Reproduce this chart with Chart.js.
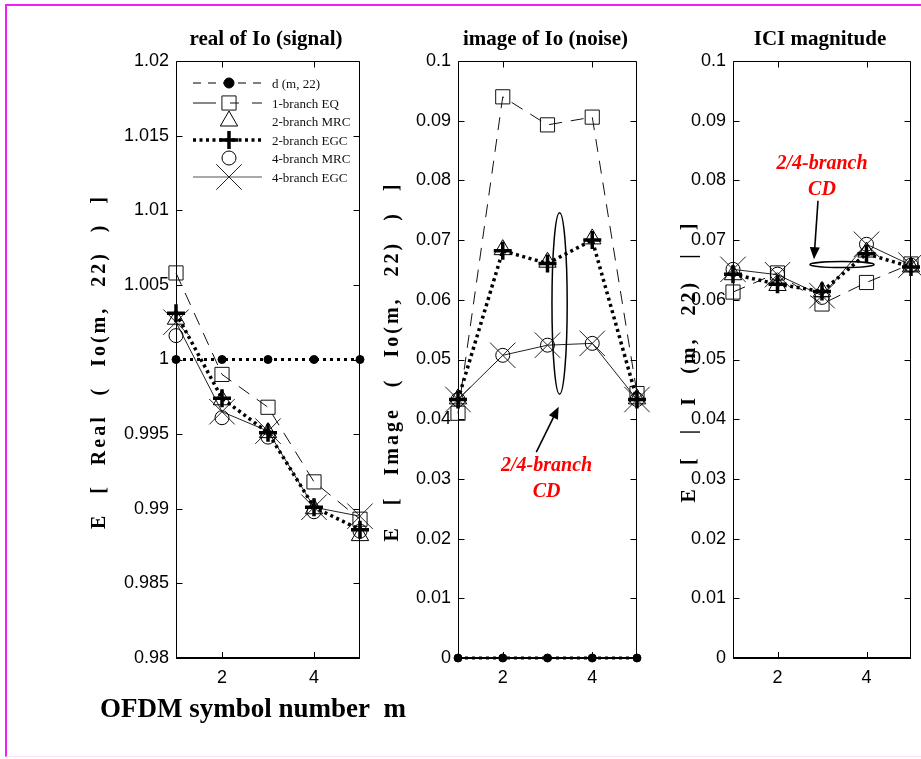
<!DOCTYPE html>
<html>
<head>
<meta charset="utf-8">
<title>E[Io(m,22)] vs OFDM symbol number</title>
<script src="https://cdn.jsdelivr.net/npm/chart.js@4.4.1/dist/chart.umd.min.js"></script>
<style>
  html, body { margin: 0; padding: 0; background: #fff; }
  #page { position: relative; width: 921px; height: 759px; overflow: hidden; background: #fff; }
  #page canvas { position: absolute; left: 0; top: 0; }
  #frame {
    position: absolute; left: 5px; top: 4px; width: 940px; height: 753px;
    border-left: 2px solid #f020f0; border-top: 2px solid #f020f0; border-bottom: 1px solid #fbe2fb;
    box-sizing: border-box;
  }
</style>
</head>
<body>
<div id="page">
  <div id="frame"></div>
  <canvas id="signal" width="921" height="759"></canvas>
  <canvas id="noise" width="921" height="759"></canvas>
  <canvas id="ici" width="921" height="759"></canvas>
</div>
<script>
// ---- data -------------------------------------------------------------
const symbolNumbers = [1, 2, 3, 4, 5];
const xTickValues = [2, 4];
const xTickLabels = ['2', '4'];

const realTickValues = [0.98, 0.985, 0.99, 0.995, 1, 1.005, 1.01, 1.015, 1.02];
const realTickLabels = ['0.98', '0.985', '0.99', '0.995', '1', '1.005', '1.01', '1.015', '1.02'];
const smallTickValues = [0, 0.01, 0.02, 0.03, 0.04, 0.05, 0.06, 0.07, 0.08, 0.09, 0.1];
const smallTickLabels = ['0', '0.01', '0.02', '0.03', '0.04', '0.05', '0.06', '0.07', '0.08', '0.09', '0.1'];

const seriesNames = ['d (m, 22)', '1-branch EQ', '2-branch MRC', '2-branch EGC', '4-branch MRC', '4-branch EGC'];

// real of Io (signal)
const realD    = [1, 1, 1, 1, 1];
const realEQ1  = [1.0058, 0.9990, 0.9968, 0.9918, 0.9893];
const realMRC2 = [1.0027, 0.9973, 0.9951, 0.9900, 0.9882];
const realEGC2 = [1.0031, 0.9974, 0.9951, 0.9901, 0.9886];
const realMRC4 = [1.0016, 0.9961, 0.9948, 0.9898, 0.9885];
const realEGC4 = [1.0025, 0.9965, 0.9952, 0.9901, 0.9895];

// image of Io (noise)
const noiseD    = [0, 0, 0, 0, 0];
const noiseEQ1  = [0.0410, 0.0940, 0.0893, 0.0906, 0.0443];
const noiseMRC2 = [0.0434, 0.0684, 0.0663, 0.0702, 0.0434];
const noiseEGC2 = [0.0433, 0.0682, 0.0661, 0.0700, 0.0433];
const noiseMRC4 = [0.0433, 0.0507, 0.0524, 0.0527, 0.0433];
const noiseEGC4 = [0.0433, 0.0507, 0.0524, 0.0527, 0.0433];

// ICI magnitude
const iciEQ1  = [0.0613, 0.0645, 0.0593, 0.0629, 0.0660];
const iciMRC2 = [0.0642, 0.0624, 0.0614, 0.0680, 0.0655];
const iciEGC2 = [0.0643, 0.0626, 0.0614, 0.0677, 0.0655];
const iciMRC4 = [0.0651, 0.0643, 0.0604, 0.0693, 0.0658];
const iciEGC4 = [0.0651, 0.0642, 0.0607, 0.0693, 0.0658];

// ---- look -------------------------------------------------------------
const SERIF = '"Liberation Serif", "Times New Roman", serif';
const SANS = '"Liberation Sans", Arial, sans-serif';

const STYLES = {
  d:    { line: true,  width: 3,   dash: [3, 4],  color: '#000', marker: 'circle',   size: 4,  mWidth: 1,   filled: true,  order: 5 },
  eq1:  { line: true,  width: 1,   dash: [13, 9], color: '#111', marker: 'rect',     size: 10, mWidth: 1,   filled: false, order: 3 },
  mrc2: { line: false, width: 1,   dash: [],      color: '#000', marker: 'triangle', size: 10, mWidth: 1,   filled: false, order: 4 },
  egc2: { line: true,  width: 3.5, dash: [3, 3.5],color: '#000', marker: 'cross',    size: 9,  mWidth: 3.5, filled: false, order: 1 },
  mrc4: { line: false, width: 1,   dash: [],      color: '#000', marker: 'circle',   size: 7,  mWidth: 1,   filled: false, order: 2 },
  egc4: { line: true,  width: 1,   dash: [],      color: '#222', marker: 'crossRot', size: 18, mWidth: 1,   filled: false, order: 6 }
};

function dataset(label, values, st) {
  return {
    label,
    data: symbolNumbers.map((m, i) => ({ x: m, y: values[i] })),
    showLine: st.line,
    borderColor: st.color,
    borderWidth: st.width,
    borderDash: st.dash,
    borderCapStyle: 'butt',
    pointStyle: st.marker,
    pointRadius: st.size,
    pointHoverRadius: st.size,
    pointBorderWidth: st.mWidth,
    pointBorderColor: st.color,
    pointBackgroundColor: st.filled ? st.color : 'rgba(0,0,0,0)',
    tension: 0,
    fill: false,
    clip: false,
    order: st.order
  };
}

// draw one marker glyph (legend)
function marker(ctx, kind, x, y, r, lw, color, filled) {
  ctx.save();
  ctx.setLineDash([]);
  ctx.strokeStyle = color; ctx.fillStyle = color; ctx.lineWidth = lw;
  ctx.beginPath();
  if (kind === 'circle') {
    ctx.arc(x, y, r, 0, Math.PI * 2);
  } else if (kind === 'rect') {
    const s = r * Math.SQRT1_2;
    ctx.rect(x - s, y - s, 2 * s, 2 * s);
  } else if (kind === 'triangle') {
    for (let k = 0; k < 3; k++) {
      const a = k * 2 * Math.PI / 3;
      const px = x + Math.sin(a) * r, py = y - Math.cos(a) * r;
      k ? ctx.lineTo(px, py) : ctx.moveTo(px, py);
    }
    ctx.closePath();
  } else if (kind === 'cross') {
    ctx.moveTo(x, y - r); ctx.lineTo(x, y + r);
    ctx.moveTo(x - r, y); ctx.lineTo(x + r, y);
  } else if (kind === 'crossRot') {
    const o = r * Math.SQRT1_2;
    ctx.moveTo(x - o, y - o); ctx.lineTo(x + o, y + o);
    ctx.moveTo(x + o, y - o); ctx.lineTo(x - o, y + o);
  }
  if (filled) ctx.fill();
  ctx.stroke();
  ctx.restore();
}

// text stretched to a given length: loose letters, wider word gaps
function spacedText(ctx, text, x, y, target) {
  if ('letterSpacing' in ctx) ctx.letterSpacing = '3px';
  const natural = ctx.measureText(text).width;
  const gaps = (text.match(/ /g) || []).length;
  if ('wordSpacing' in ctx && gaps) {
    const sp = Math.max(0, (target - natural) / gaps);
    ctx.wordSpacing = sp.toFixed(2) + 'px';
  }
  ctx.fillText(text, x, y);
  if ('letterSpacing' in ctx) ctx.letterSpacing = '0px';
  if ('wordSpacing' in ctx) ctx.wordSpacing = '0px';
}

function arrow(ctx, x0, y0, x1, y1) {
  const ang = Math.atan2(y1 - y0, x1 - x0);
  const L = 12, W = 5;
  ctx.save();
  ctx.strokeStyle = '#000'; ctx.fillStyle = '#000'; ctx.lineWidth = 1.6;
  ctx.beginPath();
  ctx.moveTo(x0, y0);
  ctx.lineTo(x1 - Math.cos(ang) * L * 0.8, y1 - Math.sin(ang) * L * 0.8);
  ctx.stroke();
  ctx.beginPath();
  ctx.moveTo(x1, y1);
  ctx.lineTo(x1 - Math.cos(ang) * L + Math.sin(ang) * W, y1 - Math.sin(ang) * L - Math.cos(ang) * W);
  ctx.lineTo(x1 - Math.cos(ang) * L - Math.sin(ang) * W, y1 - Math.sin(ang) * L + Math.cos(ang) * W);
  ctx.closePath();
  ctx.fill();
  ctx.restore();
}

// axes box, inward ticks, titles and notes for one panel
function panelPlugin(p) {
  return {
    id: 'panel_' + p.key,
    beforeDatasetsDraw(chart) {
      const { ctx, chartArea: a, scales: { x, y } } = chart;
      const L = Math.round(a.left) + 0.5, R = Math.round(a.right) - 0.5;
      const T = Math.round(a.top) + 0.5, B = Math.round(a.bottom);
      ctx.save();
      ctx.strokeStyle = '#000'; ctx.lineWidth = 1;
      ctx.beginPath();
      ctx.moveTo(L, B); ctx.lineTo(L, T); ctx.lineTo(R, T); ctx.lineTo(R, B);
      y.ticks.forEach(t => {
        const py = Math.round(y.getPixelForValue(t.value)) + 0.5;
        ctx.moveTo(L, py); ctx.lineTo(L + 6, py);
        ctx.moveTo(R, py); ctx.lineTo(R - 6, py);
      });
      x.ticks.forEach(t => {
        const px = Math.round(x.getPixelForValue(t.value)) + 0.5;
        ctx.moveTo(px, B); ctx.lineTo(px, B - 6);
        ctx.moveTo(px, T); ctx.lineTo(px, T + 6);
      });
      ctx.stroke();
      ctx.lineWidth = 2;
      ctx.beginPath(); ctx.moveTo(L - 0.5, B); ctx.lineTo(R + 0.5, B); ctx.stroke();
      ctx.restore();
    },
    afterDraw(chart) {
      const { ctx, chartArea: a, scales: { x, y } } = chart;
      ctx.save();
      ctx.fillStyle = '#000';
      // panel title
      ctx.font = 'bold 21px ' + SERIF;
      ctx.textAlign = 'center'; ctx.textBaseline = 'alphabetic';
      ctx.fillText(p.title, (a.left + a.right) / 2 - 2, 45);
      // y axis title
      ctx.save();
      ctx.translate(p.yTitleX, (a.top + a.bottom) / 2 + 2);
      ctx.rotate(-Math.PI / 2);
      ctx.font = 'bold 20px ' + SERIF;
      ctx.textBaseline = 'middle';
      spacedText(ctx, p.yTitle, 0, 0, p.yTitleLen);
      ctx.restore();
      if (p.notes) p.notes(chart, ctx, x, y);
      ctx.restore();
    }
  };
}

function makeChart(id, p, datasets, yTickValues, yTickLabels, yMin, yMax) {
  const Y_W = 70, X_H = 40;
  return new Chart(document.getElementById(id), {
    type: 'scatter',
    data: { datasets },
    options: {
      responsive: false,
      animation: false,
      events: [],
      layout: {
        autoPadding: false,
        padding: { left: p.area.left - Y_W, right: 921 - p.area.right, top: p.area.top, bottom: 759 - p.area.bottom - X_H }
      },
      plugins: { legend: { display: false }, tooltip: { enabled: false }, title: { display: false } },
      scales: {
        x: {
          type: 'linear', min: 1, max: 5,
          grid: { display: false, drawTicks: false }, border: { display: false },
          afterBuildTicks: s => { s.ticks = xTickValues.map(v => ({ value: v })); },
          afterFit: s => { s.height = X_H; },
          ticks: {
            padding: 9, color: '#000', font: { family: SANS, size: 18 },
            maxRotation: 0, autoSkip: false,
            callback: (v, i) => xTickLabels[i]
          }
        },
        y: {
          type: 'linear', min: yMin, max: yMax,
          grid: { display: false, drawTicks: false }, border: { display: false },
          afterBuildTicks: s => { s.ticks = yTickValues.map(v => ({ value: v })); },
          afterFit: s => { s.width = Y_W; },
          ticks: {
            padding: 7, color: '#000', font: { family: SANS, size: 18 }, autoSkip: false,
            callback: (v, i) => yTickLabels[i]
          }
        }
      }
    },
    plugins: [panelPlugin(p)]
  });
}

// ---- panel 1: real of Io (signal) -------------------------------------
const signalPanel = {
  key: 'signal',
  area: { left: 176, right: 360, top: 61, bottom: 658 },
  title: 'real of Io (signal)',
  yTitle: 'E [ Real ( Io(m, 22) ) ]',
  yTitleX: 100, yTitleLen: 335,
  notes(chart, ctx) {
    // legend
    const keys = ['d', 'eq1', 'mrc2', 'egc2', 'mrc4', 'egc4'];
    const rows = [83, 103, 121, 140, 158, 177];
    const x0 = 193, x1 = 262, xm = 229;
    keys.forEach((k, i) => {
      const st = STYLES[k], yy = rows[i];
      ctx.save();
      if (st.line) {
        ctx.beginPath();
        ctx.strokeStyle = k === 'egc4' ? '#555' : st.color;
        ctx.lineWidth = (k === 'd' || k === 'egc4') ? 1.2 : st.width;
        if (k === 'd') ctx.setLineDash([8, 7]);
        else if (k === 'eq1') ctx.setLineDash([23, 14, 9, 13]);
        else ctx.setLineDash(st.dash);
        ctx.moveTo(x0, yy); ctx.lineTo(x1, yy); ctx.stroke();
      }
      ctx.restore();
      marker(ctx, st.marker, xm, yy, st.size + (k === 'd' ? 1 : 0), st.mWidth, st.color, st.filled);
      ctx.save();
      ctx.fillStyle = '#111';
      ctx.font = '13px ' + SERIF;
      ctx.textAlign = 'left'; ctx.textBaseline = 'middle';
      ctx.fillText(seriesNames[i], 272, yy + 2);
      ctx.restore();
    });
    // common x axis title
    ctx.save();
    ctx.fillStyle = '#000';
    ctx.font = 'bold 27px ' + SERIF;
    ctx.textAlign = 'left'; ctx.textBaseline = 'alphabetic';
    ctx.fillText('OFDM symbol number  m', 100, 717, 310);
    ctx.restore();
  }
};
makeChart('signal', signalPanel, [
  dataset(seriesNames[0], realD, STYLES.d),
  dataset(seriesNames[1], realEQ1, STYLES.eq1),
  dataset(seriesNames[2], realMRC2, STYLES.mrc2),
  dataset(seriesNames[3], realEGC2, STYLES.egc2),
  dataset(seriesNames[4], realMRC4, STYLES.mrc4),
  dataset(seriesNames[5], realEGC4, STYLES.egc4)
], realTickValues, realTickLabels, 0.98, 1.02);

// ---- panel 2: image of Io (noise) -------------------------------------
function cdLabel(ctx, x, y) {
  ctx.save();
  ctx.fillStyle = '#ff0000';
  ctx.font = 'italic bold 20px ' + SERIF;
  ctx.textAlign = 'center'; ctx.textBaseline = 'alphabetic';
  ctx.fillText('2/4-branch', x, y);
  ctx.fillText('CD', x, y + 26);
  ctx.restore();
}

const noisePanel = {
  key: 'noise',
  area: { left: 458, right: 637, top: 61, bottom: 658 },
  title: 'image of Io (noise)',
  yTitle: 'E [ Image ( Io(m, 22) ) ]',
  yTitleX: 393, yTitleLen: 360,
  notes(chart, ctx, x, y) {
    const cx = x.getPixelForValue(3.27), cy = y.getPixelForValue(0.0594);
    const rx = x.getPixelForValue(3.27 + 0.17) - cx;
    const ry = cy - y.getPixelForValue(0.0594 + 0.0152);
    ctx.save();
    ctx.strokeStyle = '#000'; ctx.lineWidth = 1.5;
    ctx.beginPath(); ctx.ellipse(cx, cy, rx, ry, 0, 0, Math.PI * 2); ctx.stroke();
    ctx.restore();
    arrow(ctx, x.getPixelForValue(2.75), y.getPixelForValue(0.0345),
               x.getPixelForValue(3.25), y.getPixelForValue(0.0421));
    cdLabel(ctx, x.getPixelForValue(2.98), y.getPixelForValue(0.0314));
  }
};
makeChart('noise', noisePanel, [
  dataset(seriesNames[0], noiseD, STYLES.d),
  dataset(seriesNames[1], noiseEQ1, STYLES.eq1),
  dataset(seriesNames[2], noiseMRC2, STYLES.mrc2),
  dataset(seriesNames[3], noiseEGC2, STYLES.egc2),
  dataset(seriesNames[4], noiseMRC4, STYLES.mrc4),
  dataset(seriesNames[5], noiseEGC4, STYLES.egc4)
], smallTickValues, smallTickLabels, 0, 0.1);

// ---- panel 3: ICI magnitude -------------------------------------------
const iciPanel = {
  key: 'ici',
  area: { left: 733, right: 911, top: 61, bottom: 658 },
  title: 'ICI magnitude',
  yTitle: 'E [ | I (m, 22) | ]',
  yTitleX: 690, yTitleLen: 282,
  notes(chart, ctx, x, y) {
    const cx = x.getPixelForValue(3.45), cy = y.getPixelForValue(0.0659);
    const rx = x.getPixelForValue(3.45 + 0.72) - cx;
    const ry = cy - y.getPixelForValue(0.0659 + 0.0005);
    ctx.save();
    ctx.strokeStyle = '#000'; ctx.lineWidth = 1.5;
    ctx.beginPath(); ctx.ellipse(cx, cy, rx, ry, 0, 0, Math.PI * 2); ctx.stroke();
    ctx.restore();
    arrow(ctx, x.getPixelForValue(2.91), y.getPixelForValue(0.0766),
               x.getPixelForValue(2.82), y.getPixelForValue(0.0668));
    cdLabel(ctx, x.getPixelForValue(3.0), y.getPixelForValue(0.0819));
  }
};
makeChart('ici', iciPanel, [
  dataset(seriesNames[1], iciEQ1, STYLES.eq1),
  dataset(seriesNames[2], iciMRC2, STYLES.mrc2),
  dataset(seriesNames[3], iciEGC2, STYLES.egc2),
  dataset(seriesNames[4], iciMRC4, STYLES.mrc4),
  dataset(seriesNames[5], iciEGC4, STYLES.egc4)
], smallTickValues, smallTickLabels, 0, 0.1);
</script>
</body>
</html>
